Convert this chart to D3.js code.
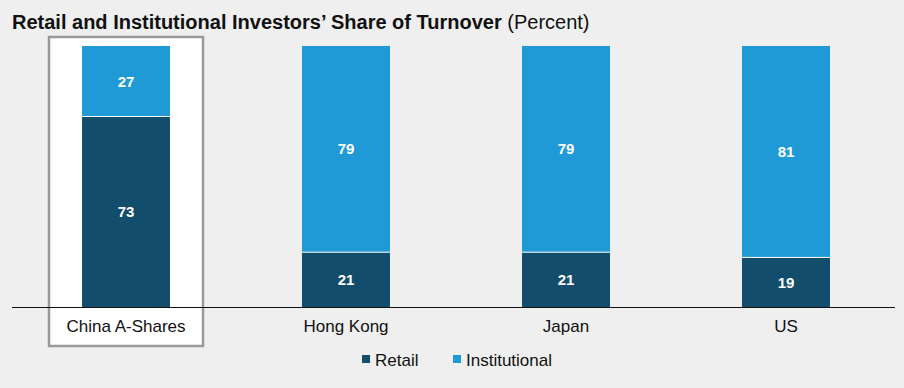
<!DOCTYPE html>
<html>
<head>
<meta charset="utf-8">
<script src="https://cdn.jsdelivr.net/npm/d3@7"></script>
<style>
  body { margin: 0; background: #efefef; }
  svg { display: block; font-family: "Liberation Sans", Arial, sans-serif; }
</style>
</head>
<body>
<div id="chart"></div>
<script>
// chart data
const categories = ['China A-Shares', 'Hong Kong', 'Japan', 'US']
const retail = [73, 21, 21, 19]
const institutional = [27, 79, 79, 81]
const seriesNames = ['Retail', 'Institutional']
const seriesColors = ['#124e6c', '#1f9ad6']
const highlighted = 'China A-Shares'

const svgWidth = 904
const svgHeight = 388

const svg = d3.select('#chart')
    .append('svg')
    .attr('width', svgWidth)
    .attr('height', svgHeight)

svg.append('rect')
    .attr('width', svgWidth)
    .attr('height', svgHeight)
    .attr('fill', '#efefef')

// scales
const x = d3.scaleBand()
    .domain(categories)
    .range([16, 896])
    .paddingInner(0.6)
    .paddingOuter(0.3)

const y = d3.scaleLinear()
    .domain([0, 100])
    .range([307, 46])

// highlight box behind the first category
const hx = x(highlighted) + x.bandwidth() / 2
svg.append('rect')
    .attr('x', hx - 77)
    .attr('y', 37)
    .attr('width', 154)
    .attr('height', 309)
    .attr('fill', '#ffffff')
    .attr('stroke', '#999999')
    .attr('stroke-width', 2.5)

// title
const title = svg.append('text')
    .attr('x', 12)
    .attr('y', 29)
    .attr('font-size', 20)
    .attr('fill', '#111')
title.append('tspan')
    .attr('font-weight', 'bold')
    .text('Retail and Institutional Investors\u2019 Share of Turnover')
title.append('tspan')
    .text(' (Percent)')

// stacked data
const rows = categories.map((c, i) => ({ category: c, Retail: retail[i], Institutional: institutional[i] }))
const stacked = d3.stack().keys(seriesNames)(rows)

const layers = svg.selectAll('g.layer')
    .data(stacked)
    .enter()
    .append('g')
    .attr('class', 'layer')
    .attr('fill', (d, i) => seriesColors[i])

layers.selectAll('rect')
    .data(d => d)
    .enter()
    .append('rect')
    .attr('x', d => x(d.data.category))
    .attr('y', d => y(d[1]))
    .attr('width', x.bandwidth())
    .attr('height', d => y(d[0]) - y(d[1]))

// white separator between segments
svg.selectAll('line.sep')
    .data(rows)
    .enter()
    .append('line')
    .attr('x1', d => x(d.category))
    .attr('x2', d => x(d.category) + x.bandwidth())
    .attr('y1', d => y(d.Retail))
    .attr('y2', d => y(d.Retail))
    .attr('stroke', '#ffffff')
    .attr('stroke-width', 1)

// value labels
layers.selectAll('text')
    .data(d => d)
    .enter()
    .append('text')
    .attr('x', d => x(d.data.category) + x.bandwidth() / 2)
    .attr('y', d => (y(d[0]) + y(d[1])) / 2)
    .attr('dy', '0.36em')
    .attr('text-anchor', 'middle')
    .attr('font-size', 15)
    .attr('font-weight', 'bold')
    .attr('fill', '#ffffff')
    .text(d => d[1] - d[0])

// baseline axis
const xAxis = d3.axisBottom(x).tickSize(0).tickPadding(13)
const axisG = svg.append('g')
    .attr('transform', `translate(0, ${y(0)})`)
    .call(xAxis)
axisG.select('.domain').remove()
axisG.selectAll('text')
    .attr('font-size', 17)
    .attr('fill', '#111')
    .attr('font-family', '"Liberation Sans", Arial, sans-serif')
svg.append('line')
    .attr('x1', 12)
    .attr('x2', 895)
    .attr('y1', y(0) + 0.5)
    .attr('y2', y(0) + 0.5)
    .attr('stroke', '#111')
    .attr('stroke-width', 1.2)

// legend
const legendX = [362, 453]
const legend = svg.selectAll('g.legend')
    .data(seriesNames)
    .enter()
    .append('g')
    .attr('class', 'legend')
    .attr('transform', (d, i) => `translate(${legendX[i]}, 359)`)
legend.append('rect')
    .attr('x', 0)
    .attr('y', -4)
    .attr('width', 8)
    .attr('height', 8)
    .attr('fill', (d, i) => seriesColors[i])
legend.append('text')
    .attr('x', 13)
    .attr('y', 7)
    .attr('font-size', 17)
    .attr('fill', '#111')
    .text(d => d)
</script>
</body>
</html>
